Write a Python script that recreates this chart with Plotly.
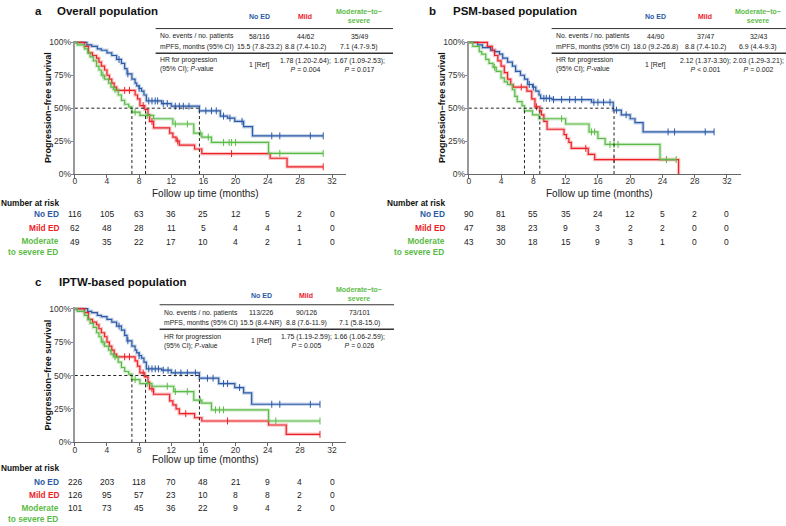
import plotly.graph_objects as go

W, H = 786, 526
OFF = 0
FW, FH = W - OFF, H - OFF
BLUE = '#2b5aa6'
RED = '#ec2227'
GREEN = '#5cbb48'
FONT = 'Liberation Sans, Arial, sans-serif'

# ---------------- data ----------------
x_ticks = [0, 4, 8, 12, 16, 20, 24, 28, 32]
y_ticks = [0, 25, 50, 75, 100]
y_tick_text = ['0%', '25%', '50%', '75%', '100%']

# Panel a: overall population  (event times, survival % after event)
a_noed_t = [0, 1.5, 2.1, 2.8, 3.3, 4.0, 4.6, 5.2, 5.8, 6.2, 6.5, 7.1, 7.5, 7.7, 8.0, 8.3, 8.6, 8.9, 10.8, 12.0, 15.5, 18.1, 19.0, 19.9, 21.0, 22.1]
a_noed_s = [100, 98, 97, 95, 94, 92, 90, 87, 84, 80, 76, 72, 69, 67, 65, 63, 60, 55.5, 53.5, 51.5, 48, 44, 42.5, 40, 36, 29]
a_noed_end = 30.9
a_noed_cens = [5.5, 6.6, 8.0, 9.2, 9.6, 10.0, 10.3, 11.0, 11.5, 12.5, 13.0, 13.5, 14.2, 16.3, 17.0, 17.6, 18.5, 19.3, 20.8, 24.5, 25.5, 29.3, 30.9]

a_mild_t = [0, 1.2, 1.7, 2.2, 2.7, 3.0, 3.3, 3.7, 4.0, 4.3, 4.6, 4.9, 5.2, 7.5, 7.8, 8.1, 8.7, 9.1, 9.3, 9.8, 11.8, 12.2, 12.6, 13.0, 14.9, 15.8, 24.3, 26.4]
a_mild_s = [100, 97, 92, 90, 88, 85, 82, 79, 75, 72, 69, 66, 63.5, 60, 57, 52, 49, 45, 40, 35, 31, 28, 25, 22, 19, 15.5, 12, 5.5]
a_mild_end = 30.9
a_mild_cens = [6.2, 6.8, 8.5, 9.6, 12.8, 19.5, 30.9]

a_mod_t = [0, 0.3, 1.2, 1.6, 1.9, 2.3, 2.7, 3.0, 3.3, 3.7, 4.2, 4.5, 4.8, 5.4, 5.8, 6.2, 6.7, 7.1, 8.1, 9.8, 12.2, 14.8, 15.8, 17.0, 24.1]
a_mod_s = [100, 98, 95, 92, 89, 86, 82, 79, 75, 72, 69, 66, 64, 60, 56, 53, 51, 47, 44.5, 42, 38, 31, 28, 24, 15.7]
a_mod_end = 30.9
a_mod_cens = [3.5, 5.0, 7.5, 9.0, 12.5, 14.0, 15.6, 16.6, 18.5, 19.2, 19.5, 20.0, 25.5, 30.9]

# Panel b: PSM-based population
b_noed_t = [0, 1.1, 1.7, 2.7, 3.2, 3.8, 4.2, 4.8, 5.4, 5.8, 6.4, 6.9, 7.3, 7.9, 8.3, 8.7, 8.9, 10.3, 15.2, 17.9, 18.9, 20.0, 20.6, 21.6]
b_noed_s = [100, 98, 96, 94, 93, 91, 88, 85, 82, 78, 75, 72, 68, 66, 63, 60, 57.5, 56.5, 54.5, 48.5, 45, 42, 39, 32]
b_noed_end = 30.4
b_noed_cens = [7.5, 8.0, 9.3, 9.6, 10.0, 10.5, 11.5, 12.5, 13.2, 14.0, 15.5, 16.0, 16.7, 17.5, 18.3, 19.5, 24.7, 25.5, 29.3, 30.4]

b_mild_t = [0, 2.3, 2.9, 3.2, 3.6, 4.0, 4.4, 4.8, 5.2, 5.5, 7.2, 7.8, 8.2, 8.8, 9.0, 9.3, 9.7, 11.8, 12.1, 12.4, 12.7, 14.8, 15.6, 26.0]
b_mild_s = [100, 97, 94, 90, 86, 82, 77, 72, 68, 66, 63, 57, 51, 48, 45, 40, 34, 30, 27, 24, 19.5, 15, 11, 0]
b_mild_end = 26.0
b_mild_cens = [6.5, 8.4, 14.5, 18.0, 24.5]

b_mod_t = [0, 0.5, 1.3, 1.6, 2.1, 2.5, 3.0, 3.4, 4.0, 4.4, 4.8, 5.4, 5.7, 6.0, 6.6, 6.9, 7.9, 8.7, 12.0, 14.9, 16.0, 16.9, 23.7]
b_mod_s = [100, 97, 93, 91, 87, 84, 81, 78, 73, 70, 68, 64, 59, 55, 52, 48, 45, 42, 38, 32, 27, 22.5, 11]
b_mod_end = 25.7
b_mod_cens = [3.2, 11.5, 15.2, 15.6, 17.5, 18.0, 18.5, 24.5, 25.7]

# Panel c: IPTW-based population
c_noed_t = [0, 1.6, 2.1, 2.8, 3.3, 4.0, 4.6, 5.2, 5.8, 6.2, 6.5, 7.1, 7.5, 7.7, 8.0, 8.3, 8.6, 8.9, 10.8, 12.0, 15.5, 17.9, 19.9, 21.0, 22.0]
c_noed_s = [100, 98, 97, 95, 94, 92, 90, 87, 84, 80, 76, 72, 69, 67, 65, 63, 60, 55, 54, 52, 48, 44, 41, 37, 28.5]
c_noed_end = 30.5
c_noed_cens = [5.5, 6.6, 8.0, 9.2, 9.6, 10.0, 10.4, 11.0, 11.6, 12.5, 13.2, 14.0, 15.0, 16.5, 17.2, 18.5, 19.0, 20.5, 24.5, 25.5, 29.3, 30.5]

c_mild_t = [0, 1.2, 1.7, 2.2, 2.7, 3.0, 3.3, 3.7, 4.0, 4.3, 4.6, 4.9, 5.2, 7.5, 7.8, 8.1, 8.7, 9.1, 9.3, 9.8, 11.8, 12.2, 12.6, 13.0, 14.9, 15.8, 24.1, 26.3]
c_mild_s = [100, 97, 92, 90, 88, 85, 82, 79, 75, 72, 69, 66, 64, 61, 57, 52, 49, 45, 40, 36, 31, 28, 25, 21.5, 18.4, 16, 13, 6]
c_mild_end = 30.5
c_mild_cens = [6.2, 6.8, 8.5, 9.6, 13.8, 19.0, 30.5]

c_mod_t = [0, 0.3, 1.2, 1.6, 1.9, 2.3, 2.7, 3.0, 3.3, 3.7, 4.2, 4.5, 4.8, 5.4, 5.8, 6.2, 6.7, 7.1, 8.1, 9.6, 12.3, 14.8, 15.8, 17.0, 24.1]
c_mod_s = [100, 98, 95, 92, 89, 86, 82, 79, 75, 72, 69, 66, 64, 60, 56, 53, 51, 47, 44, 42, 38, 31.6, 29.4, 24.3, 16]
c_mod_end = 30.5
c_mod_cens = [3.5, 5.0, 7.5, 9.0, 11.5, 12.5, 14.0, 15.6, 17.5, 18.0, 18.5, 25.0, 30.5]

medians_a = [15.5, 8.8, 7.1]
medians_b = [18.0, 8.8, 6.9]
medians_c = [15.5, 8.8, 7.1]

risk_a = {'noed': [116, 105, 63, 36, 25, 12, 5, 2, 0],
          'mild': [62, 48, 28, 11, 5, 4, 4, 1, 0],
          'mod': [49, 35, 22, 17, 10, 4, 2, 1, 0]}
risk_b = {'noed': [90, 81, 55, 35, 24, 12, 5, 2, 0],
          'mild': [47, 38, 23, 9, 3, 2, 2, 0, 0],
          'mod': [43, 30, 18, 15, 9, 3, 1, 0, 0]}
risk_c = {'noed': [226, 203, 118, 70, 48, 21, 9, 4, 0],
          'mild': [126, 95, 57, 23, 10, 8, 8, 2, 0],
          'mod': [101, 73, 45, 36, 22, 9, 4, 2, 0]}

tab_a = {'events': ['58/116', '44/62', '35/49'],
         'mpfs': ['15.5 (7.8-23.2)', '8.8 (7.4-10.2)', '7.1 (4.7-9.5)'],
         'hr': ['1 [Ref]', '1.78 (1.20-2.64);<br><i>P</i> = 0.004', '1.67 (1.09-2.53);<br><i>P</i> = 0.017']}
tab_b = {'events': ['44/90', '37/47', '32/43'],
         'mpfs': ['18.0 (9.2-26.8)', '8.8 (7.4-10.2)', '6.9 (4.4-9.3)'],
         'hr': ['1 [Ref]', '2.12 (1.37-3.30);<br><i>P</i> < 0.001', '2.03 (1.29-3.21);<br><i>P</i> = 0.002']}
tab_c = {'events': ['113/226', '90/126', '73/101'],
         'mpfs': ['15.5 (8.4-NR)', '8.8 (7.6-11.9)', '7.1 (5.8-15.0)'],
         'hr': ['1 [Ref]', '1.75 (1.19-2.59);<br><i>P</i> = 0.005', '1.66 (1.06-2.59);<br><i>P</i> = 0.026']}

# ---------------- helpers ----------------
def PX(px):
    return (px - OFF) / FW

def PY(py):
    return 1 - (py - OFF) / FH

def surv_at(ts, ss, tc):
    v = ss[0]
    for t, s in zip(ts, ss):
        if t <= tc:
            v = s
    return v

fig = go.Figure()
annotations = []
shapes = []

XMAX = 33.75

panels = [
    dict(sfx='', px=(73, 345), py=(39, 173), letter='a', title='Overall population',
         title_xy=(31, 53, 7), ytitle_x=46,
         curves=[(a_noed_t, a_noed_s, a_noed_end, a_noed_cens, BLUE),
                 (a_mild_t, a_mild_s, a_mild_end, a_mild_cens, RED),
                 (a_mod_t, a_mod_s, a_mod_end, a_mod_cens, GREEN)],
         medians=medians_a, risk=risk_a, risk_y=(202, 214, 228, 242), lab_x=59,
         xtitle_y=193, tab=tab_a, tab_left=156, tab_cols=(258, 304, 358), tab_end=392,
         tab_y=dict(h=13, m1=8, m2=17, line1=25, r1=33, r2=44, line2=50, hr=62)),
    dict(sfx='2', px=(468, 741), py=(39, 173), letter='b', title='PSM-based population',
         title_xy=(426, 450, 7), ytitle_x=441,
         curves=[(b_noed_t, b_noed_s, b_noed_end, b_noed_cens, BLUE),
                 (b_mild_t, b_mild_s, b_mild_end, b_mild_cens, RED),
                 (b_mod_t, b_mod_s, b_mod_end, b_mod_cens, GREEN)],
         medians=medians_b, risk=risk_b, risk_y=(202, 214, 228, 242), lab_x=446,
         xtitle_y=193, tab=tab_b, tab_left=553, tab_cols=(655, 705, 758), tab_end=786,
         tab_y=dict(h=13, m1=8, m2=17, line1=25, r1=33, r2=44, line2=50, hr=62)),
    dict(sfx='3', px=(73, 345), py=(310, 446), letter='c', title='IPTW-based population',
         title_xy=(31, 55, 283), ytitle_x=46,
         curves=[(c_noed_t, c_noed_s, c_noed_end, c_noed_cens, BLUE),
                 (c_mild_t, c_mild_s, c_mild_end, c_mild_cens, RED),
                 (c_mod_t, c_mod_s, c_mod_end, c_mod_cens, GREEN)],
         medians=medians_c, risk=risk_c, risk_y=(472, 486, 500, 513), lab_x=59,
         xtitle_y=463, tab=tab_c, tab_left=160, tab_cols=(260, 305, 358), tab_end=393,
         tab_y=dict(h=297, m1=290, m2=300, line1=306, r1=314, r2=325, line2=331, hr=343)),
]

layout_axes = {}
for p in panels:
    sfx = p['sfx']
    xa = 'x' + sfx
    ya = 'y' + sfx
    x0, x1 = p['px']
    yt, yb = p['py']
    ppu = (yb - yt) / 100.0
    top = yt - 1.0 * ppu
    layout_axes['xaxis' + sfx] = dict(
        domain=[PX(x0), PX(x1)], range=[0, XMAX], anchor=ya,
        tickvals=x_ticks, ticks='outside', ticklen=3, tickcolor='#666',
        ticklabelstandoff=-4,
        showline=True, linecolor='#666', linewidth=1, showgrid=False, zeroline=False,
        tickfont=dict(size=8.5, color='#333', family=FONT))
    layout_axes['yaxis' + sfx] = dict(
        domain=[PY(yb), PY(top)], range=[0, 101], anchor=xa,
        tickvals=y_ticks, ticktext=y_tick_text, ticks='outside', ticklen=2, tickcolor='#888',
        ticklabelstandoff=-2,
        showline=True, linecolor='#999', linewidth=2, showgrid=False, zeroline=False,
        tickfont=dict(size=8.5, color='#333', family=FONT))

    for (ts, ss, end, cens, col) in p['curves']:
        xs = list(ts) + [end]
        ys = list(ss) + [ss[-1]]
        fig.add_trace(go.Scatter(x=xs, y=ys, mode='lines', line=dict(color=col, width=3.5, shape='hv'),
                                 opacity=0.25, xaxis=xa, yaxis=ya, showlegend=False, hoverinfo='skip'))
        fig.add_trace(go.Scatter(x=xs, y=ys, mode='lines', line=dict(color=col, width=1.2, shape='hv'),
                                 xaxis=xa, yaxis=ya, showlegend=False))
        cy = [surv_at(ts, ss, c) for c in cens]
        fig.add_trace(go.Scatter(x=cens, y=cy, mode='markers',
                                 marker=dict(symbol='line-ns', size=5, line=dict(color=col, width=1)),
                                 xaxis=xa, yaxis=ya, showlegend=False, cliponaxis=False))

    # median dashed lines
    mmax = max(p['medians'])
    shapes.append(dict(type='line', xref=xa, yref=ya, x0=0, x1=mmax, y0=50, y1=50,
                       line=dict(color='#222', width=1, dash='3px,2.5px')))
    for m in p['medians']:
        shapes.append(dict(type='line', xref=xa, yref=ya, x0=m, x1=m, y0=0, y1=50,
                           line=dict(color='#222', width=1, dash='3px,2.5px')))

    # panel title
    lx, tx, ty = p['title_xy']
    annotations.append(dict(xref='paper', yref='paper', x=PX(lx), y=PY(ty), xanchor='left', yanchor='middle',
                            text='<b>%s</b>' % p['letter'], showarrow=False,
                            font=dict(size=11.5, color='#111', family=FONT)))
    annotations.append(dict(xref='paper', yref='paper', x=PX(tx), y=PY(ty), xanchor='left', yanchor='middle',
                            text='<b>%s</b>' % p['title'], showarrow=False,
                            font=dict(size=11.5, color='#111', family=FONT)))
    # axis titles
    annotations.append(dict(xref='paper', yref='paper', x=PX(p['ytitle_x']), y=PY((yt + yb) / 2 - 1),
                            xanchor='center', yanchor='middle', textangle=-90,
                            text='<b>Progression−free survival</b>', showarrow=False,
                            font=dict(size=9, color='#111', family=FONT)))
    annotations.append(dict(xref=xa, yref='paper', x=16.2, y=PY(p['xtitle_y']), xanchor='center', yanchor='middle',
                            text='Follow up time (months)', showarrow=False,
                            font=dict(size=10, color='#222', family=FONT)))

    # risk table
    ry0, ry1, ry2, ry3 = p['risk_y']
    annotations.append(dict(xref='paper', yref='paper', x=PX(p['lab_x'] + 0.5), y=PY(ry0), xanchor='right',
                            yanchor='middle', text='<b>Number at risk</b>', showarrow=False,
                            font=dict(size=8.3, color='#111', family=FONT)))
    labels = [('noed', 'No ED', BLUE, ry1, ry1), ('mild', 'Mild ED', RED, ry2, ry2),
              ('mod', 'Moderate<br>to severe ED', GREEN, ry3, ry3 + 5)]
    for key, lab, col, ry, laby in labels:
        annotations.append(dict(xref='paper', yref='paper', x=PX(p['lab_x'] + 0.5), y=PY(laby), xanchor='right',
                                yanchor='middle', align='right', text='<b>%s</b>' % lab, showarrow=False,
                                font=dict(size=8.3, color=col, family=FONT)))
        for tt, v in zip(x_ticks, p['risk'][key]):
            annotations.append(dict(xref=xa, yref='paper', x=tt, y=PY(ry), xanchor='center', yanchor='middle',
                                    text=str(v), showarrow=False,
                                    font=dict(size=8.5, color='#222', family=FONT)))

    # inset table
    ty_ = p['tab_y']
    cx = p['tab_cols']
    left = p['tab_left']
    hdr = [('No ED', BLUE, ty_['h']), ('Mild', RED, ty_['h']), ('Moderate−to−<br>severe', GREEN, (ty_['m1'] + ty_['m2']) / 2)]
    for (txt, col, yy), xx in zip(hdr, cx):
        annotations.append(dict(xref='paper', yref='paper', x=PX(xx), y=PY(yy), xanchor='center', yanchor='middle',
                                text='<b>%s</b>' % txt, showarrow=False,
                                font=dict(size=7, color=col, family=FONT)))
    rows = [('No. events / no. patients', p['tab']['events'], ty_['r1']),
            ('mPFS, months (95% CI)', p['tab']['mpfs'], ty_['r2']),
            ('HR for progression<br>(95% CI); <i>P</i>-value', p['tab']['hr'], ty_['hr'])]
    for lab, vals, yy in rows:
        annotations.append(dict(xref='paper', yref='paper', x=PX(left), y=PY(yy), xanchor='left', yanchor='middle',
                                align='left', text=lab, showarrow=False,
                                font=dict(size=6.8, color='#222', family=FONT)))
        for v, xx in zip(vals, cx):
            annotations.append(dict(xref='paper', yref='paper', x=PX(xx), y=PY(yy), xanchor='center',
                                    yanchor='middle', align='center', text=v, showarrow=False,
                                    font=dict(size=6.9, color='#222', family=FONT)))
    shapes.append(dict(type='line', xref='paper', yref='paper', x0=PX(left - 2), x1=PX(p['tab_end']),
                       y0=PY(ty_['line1']), y1=PY(ty_['line1']), line=dict(color='#333', width=1)))
    shapes.append(dict(type='line', xref='paper', yref='paper', x0=PX(left - 2), x1=PX(p['tab_end']),
                       y0=PY(ty_['line2']), y1=PY(ty_['line2']), line=dict(color='#333', width=1.5)))

fig.update_layout(width=FW, height=FH, margin=dict(l=0, r=0, t=0, b=0),
                  paper_bgcolor='white', plot_bgcolor='white',
                  font=dict(family=FONT, color='#222'),
                  annotations=annotations, shapes=shapes, showlegend=False, **layout_axes)

fig.write_html('out.html', config={'displayModeBar': False},
               post_script="document.body.style.margin='0';document.body.style.overflow='hidden';")
